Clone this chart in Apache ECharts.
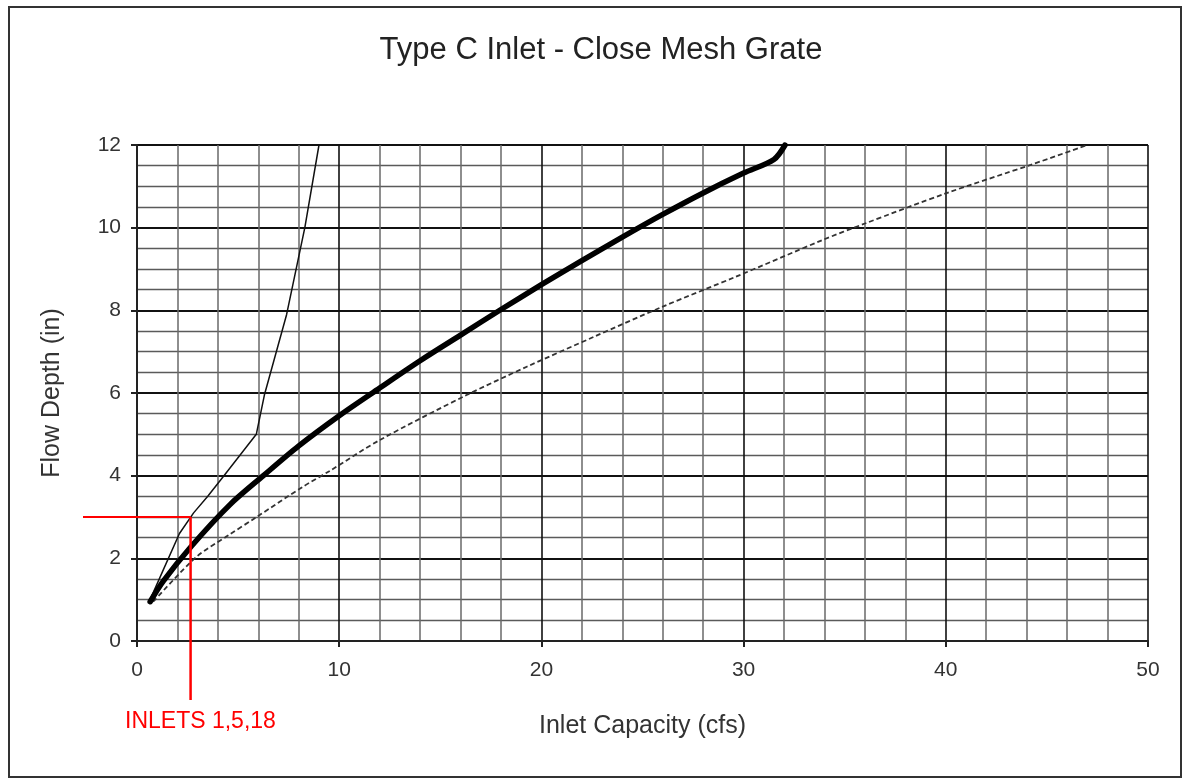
<!DOCTYPE html>
<html>
<head>
<meta charset="utf-8">
<script src="https://cdn.jsdelivr.net/npm/echarts@6/dist/echarts.min.js"></script>
<style>
html,body{margin:0;padding:0;background:#fff;}
#chart{width:1183px;height:779px;}
</style>
</head>
<body>
<div id="chart"></div>
<script>
// ---- data ----
const titleText = "Type C Inlet - Close Mesh Grate";
const xAxisTitle = "Inlet Capacity (cfs)";
const yAxisTitle = "Flow Depth (in)";
const xTicks = [0, 10, 20, 30, 40, 50];
const yTicks = [0, 2, 4, 6, 8, 10, 12];

// thin solid curve
const thinX = [0.65, 1.3, 2.1, 2.8, 3.5, 4.3, 5.9, 6.3, 7.4, 8.3, 9.0];
const thinY = [1.0, 1.72, 2.6, 3.1, 3.5, 4.0, 5.0, 5.95, 7.9, 10.0, 12.0];

// thick solid curve
const thickX = [0.65, 1.3, 2.7, 4.6, 6.25, 8.0, 10.0, 12.0, 14.0, 16.0, 18.0, 20.0, 22.0, 24.0, 26.0, 28.0, 30.0, 31.5, 32.05];
const thickY = [0.95, 1.45, 2.3, 3.3, 4.0, 4.72, 5.45, 6.12, 6.78, 7.4, 8.02, 8.62, 9.2, 9.77, 10.32, 10.84, 11.32, 11.65, 12.0];

// dashed curve
const dashX = [0.8, 2.95, 4.5, 5.92, 8.2, 9.55, 12.0, 16.3, 19.3, 22.6, 26.0, 29.6, 33.9, 36.0, 40.0, 44.2, 47.0];
const dashY = [0.95, 2.04, 2.55, 3.0, 3.73, 4.12, 4.86, 5.95, 6.64, 7.36, 8.09, 8.81, 9.7, 10.1, 10.83, 11.52, 12.0];

// red annotation
const inletPoint = [2.65, 3];
const inletLabel = "INLETS 1,5,18";

const pairs = (xs, ys) => xs.map((x, i) => [x, ys[i]]);

const chart = echarts.init(document.getElementById('chart'));
const FONT = '"Liberation Sans", Arial, sans-serif';

const option = {
  backgroundColor: '#fff',
  animation: false,
  title: {
    text: titleText,
    left: 596,
    top: 30,
    textAlign: 'center',
    textStyle: { fontFamily: FONT, fontSize: 31, fontWeight: 'normal', color: '#222' }
  },
  grid: { left: 137, right: 35, top: 145, bottom: 138 },
  xAxis: {
    type: 'value',
    min: 0, max: 50, interval: 10,
    name: xAxisTitle,
    nameLocation: 'middle',
    nameGap: 73,
    nameTextStyle: { fontFamily: FONT, fontSize: 25, color: '#333' },
    axisLine: { show: true, onZero: false, lineStyle: { color: '#222', width: 2 } },
    axisTick: { show: true, length: 6, inside: false, lineStyle: { color: '#222', width: 2 } },
    axisLabel: { margin: 19, fontFamily: FONT, fontSize: 21, color: '#333',
      formatter: v => xTicks.includes(v) ? String(v) : '' },
    splitLine: { show: true, lineStyle: { color: '#111', width: 1.6 } },
    minorTick: { show: false, splitNumber: 5 },
    minorSplitLine: { show: true, lineStyle: { color: '#6a6a6a', width: 1.5 } }
  },
  yAxis: {
    type: 'value',
    min: 0, max: 12, interval: 2,
    name: yAxisTitle,
    nameLocation: 'middle',
    nameGap: 72,
    nameRotate: 90,
    nameTextStyle: { fontFamily: FONT, fontSize: 25, color: '#333' },
    axisLine: { show: true, lineStyle: { color: '#222', width: 2 } },
    axisTick: { show: true, length: 6, lineStyle: { color: '#222', width: 2 } },
    axisLabel: { margin: 16, fontFamily: FONT, fontSize: 21, color: '#333',
      formatter: v => yTicks.includes(v) ? String(v) : '' },
    splitLine: { show: true, lineStyle: { color: '#111', width: 1.8 } },
    minorTick: { show: false, splitNumber: 4 },
    minorSplitLine: { show: true, lineStyle: { color: '#5a5a5a', width: 1.4 } }
  },
  series: [
    {
      name: 'thin', type: 'line', data: pairs(thinX, thinY),
      showSymbol: false, symbol: 'none', smooth: false,
      lineStyle: { color: '#111', width: 1.5 }, z: 3
    },
    {
      name: 'thick', type: 'line', data: pairs(thickX, thickY),
      showSymbol: false, symbol: 'none', smooth: 0.3,
      lineStyle: { color: '#000', width: 5.5, cap: 'round', join: 'round' }, z: 4
    },
    {
      name: 'dashed', type: 'line', data: pairs(dashX, dashY),
      showSymbol: false, symbol: 'none', smooth: 0.3,
      lineStyle: { color: '#333', width: 1.8, type: [5, 3] }, z: 3
    }
  ]
};
chart.setOption(option);

// annotation through the chart's own scales
const p = chart.convertToPixel({ gridIndex: 0 }, inletPoint);
chart.setOption({
  graphic: [
    { type: 'rect', shape: { x: 9, y: 7, width: 1172, height: 770 },
      style: { fill: 'none', stroke: '#333', lineWidth: 2 }, z: 100 },
    { type: 'line', shape: { x1: 83, y1: p[1], x2: p[0], y2: p[1] },
      style: { stroke: '#f00', lineWidth: 2 }, z: 100 },
    { type: 'line', shape: { x1: p[0], y1: p[1], x2: p[0], y2: 700 },
      style: { stroke: '#f00', lineWidth: 2.5 }, z: 100 },
    { type: 'text', x: 125, y: 722,
      style: { text: inletLabel, fill: '#f00', font: '23px "Liberation Sans", Arial, sans-serif',
        textVerticalAlign: 'middle', textAlign: 'left' }, z: 100 }
  ]
});
</script>
</body>
</html>
